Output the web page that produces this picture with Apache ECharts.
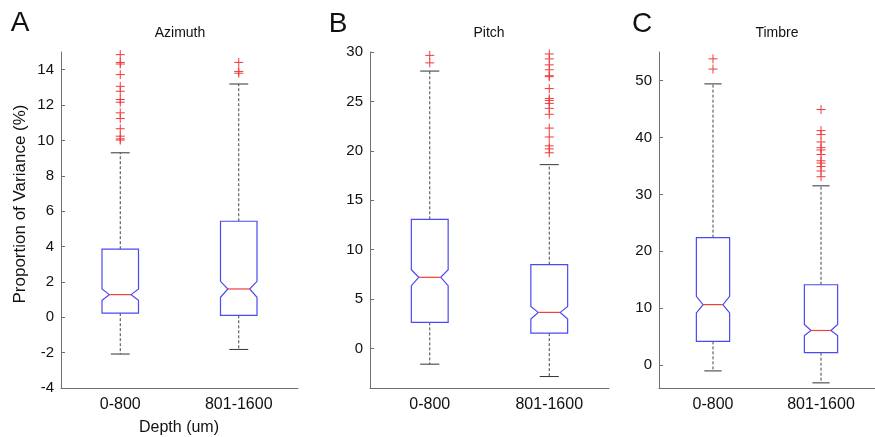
<!DOCTYPE html>
<html>
<head>
<meta charset="utf-8">
<script src="https://cdn.jsdelivr.net/npm/echarts@6/dist/echarts.min.js"></script>
<style>
  html, body { margin: 0; padding: 0; background: #fff; }
  #chart { width: 875px; height: 437px; }
</style>
</head>
<body>
<div id="chart"></div>
<script>
// categories and tick labels
var categories = ['0-800', '801-1600'];
var azimuthTicks = [-4, -2, 0, 2, 4, 6, 8, 10, 12, 14];
var pitchTicks = [0, 5, 10, 15, 20, 25, 30];
var timbreTicks = [0, 10, 20, 30, 40, 50];

// box stats per depth: [whisker low, q1, notch low, median, notch high, q3, whisker high]
var azimuthStats = [
  [-2.08, 0.23, 0.96, 1.28, 1.6, 3.85, 9.3],
  [-1.82, 0.11, 1.13, 1.6, 2.03, 5.43, 13.19]
];
var pitchStats = [
  [-1.59, 2.64, 6.35, 7.2, 7.97, 13.07, 28.07],
  [-2.84, 1.55, 2.97, 3.65, 4.26, 8.48, 18.6]
];
var timbreStats = [
  [-1.0, 4.19, 9.19, 10.64, 12.1, 22.4, 49.4],
  [-3.1, 2.2, 5.2, 6.1, 7.15, 14.13, 31.5]
];

// outliers
var azimuthOut0 = [14.85, 14.41, 14.32, 13.72, 13.06, 12.78, 12.31, 12.16, 11.56, 11.24, 10.66, 10.24, 10.09, 10.02];
var azimuthOut1 = [14.41, 13.9, 13.8];
var pitchOut0 = [29.66, 28.9];
var pitchOut1 = [29.8, 29.3, 28.7, 28.2, 27.6, 27.5, 26.3, 25.3, 25.1, 24.8, 24.3, 23.7, 22.3, 21.4, 20.5, 20.2, 19.8];
var timbreOut0 = [53.8, 52.0];
var timbreOut1 = [44.9, 41.2, 40.5, 39.2, 38.2, 37.8, 37.0, 35.9, 35.5, 34.9, 34.1, 33.1];

var FONT = '"Liberation Sans", Arial, Helvetica, sans-serif';
var AXIS_COLOR = '#6f6f6f';
var BOX_COLOR = '#4a4af2';
var MED_COLOR = '#f04040';
var OUT_COLOR = '#f03a3a';

var chart = echarts.init(document.getElementById('chart'));

// 画缺口箱体
function renderBox(params, api) {
  var idx = api.value(0);
  var y = function (i) { return api.coord([idx, api.value(i)])[1]; };
  var cx = api.coord([idx, api.value(4)])[0];
  var band = api.size([1, 0])[0];
  var hw = band * 0.154, nw = band * 0.092, cw = band * 0.08;
  var low = y(1), q1 = y(2), nlo = y(3), med = y(4), nhi = y(5), q3 = y(6), high = y(7);
  var dash = { stroke: '#444', lineWidth: 1, lineDash: [3, 2] };
  var cap = { stroke: '#333', lineWidth: 1 };
  return {
    type: 'group',
    children: [
      { type: 'line', shape: { x1: cx, y1: q3, x2: cx, y2: high }, style: dash },
      { type: 'line', shape: { x1: cx, y1: q1, x2: cx, y2: low }, style: dash },
      { type: 'line', shape: { x1: cx - cw, y1: high, x2: cx + cw, y2: high }, style: cap },
      { type: 'line', shape: { x1: cx - cw, y1: low, x2: cx + cw, y2: low }, style: cap },
      {
        type: 'polygon',
        shape: {
          points: [
            [cx - hw, q3], [cx + hw, q3], [cx + hw, nhi], [cx + nw, med], [cx + hw, nlo],
            [cx + hw, q1], [cx - hw, q1], [cx - hw, nlo], [cx - nw, med], [cx - hw, nhi]
          ]
        },
        style: { fill: '#fff', stroke: BOX_COLOR, lineWidth: 1.2 }
      },
      { type: 'line', shape: { x1: cx - nw, y1: med, x2: cx + nw, y2: med }, style: { stroke: MED_COLOR, lineWidth: 1.2 } }
    ]
  };
}

// 画离群点 "+"
function renderPlus(params, api) {
  var p = api.coord([api.value(0), api.value(1)]);
  var s = 4.5;
  var st = { stroke: OUT_COLOR, lineWidth: 1 };
  return {
    type: 'group',
    children: [
      { type: 'line', shape: { x1: p[0] - s, y1: p[1], x2: p[0] + s, y2: p[1] }, style: st },
      { type: 'line', shape: { x1: p[0], y1: p[1] - s, x2: p[0], y2: p[1] + s }, style: st }
    ]
  };
}

function boxData(stats) {
  return stats.map(function (s, i) { return [i].concat(s); });
}
function outData(out0, out1) {
  return out0.map(function (v) { return [0, v]; }).concat(out1.map(function (v) { return [1, v]; }));
}

var panels = [
  { left: 61, width: 237, min: -4, max: 15, ticks: azimuthTicks, stats: azimuthStats, out: outData(azimuthOut0, azimuthOut1) },
  { left: 370, width: 239, min: -4, max: 30, ticks: pitchTicks, stats: pitchStats, out: outData(pitchOut0, pitchOut1) },
  { left: 659, width: 237, min: -4, max: 55, ticks: timbreTicks, stats: timbreStats, out: outData(timbreOut0, timbreOut1) }
];

var grids = [], xAxes = [], yAxes = [], series = [];
panels.forEach(function (p, i) {
  grids.push({ left: p.left, width: p.width, top: 52, height: 336 });
  xAxes.push({
    type: 'category', gridIndex: i, data: categories, boundaryGap: true,
    axisLine: { onZero: false, lineStyle: { color: AXIS_COLOR, width: 1 } },
    axisTick: { inside: true, length: 4, alignWithLabel: true, lineStyle: { color: AXIS_COLOR } },
    axisLabel: { color: '#111', fontFamily: FONT, fontSize: 16, margin: 9 },
    splitLine: { show: false }
  });
  yAxes.push({
    type: 'value', gridIndex: i, min: p.min, max: p.max,
    axisLine: { show: true, lineStyle: { color: AXIS_COLOR, width: 1 } },
    axisTick: { show: true, inside: true, length: 4, customValues: p.ticks, lineStyle: { color: AXIS_COLOR } },
    axisLabel: { color: '#111', fontFamily: FONT, fontSize: 15, margin: 7, customValues: p.ticks },
    splitLine: { show: false }
  });
  series.push({
    type: 'custom', xAxisIndex: i, yAxisIndex: i, renderItem: renderBox,
    encode: { x: 0, y: [1, 2, 3, 4, 5, 6, 7] }, data: boxData(p.stats), silent: true, z: 2
  });
  series.push({
    type: 'custom', xAxisIndex: i, yAxisIndex: i, renderItem: renderPlus,
    encode: { x: 0, y: 1 }, data: p.out, silent: true, z: 3
  });
});

function label(text, x, y, size, extra) {
  var el = {
    type: 'text', x: x, y: y,
    style: { text: text, font: size + 'px ' + FONT, fill: '#111', align: 'center', verticalAlign: 'middle' }
  };
  for (var k in extra) el[k] = extra[k];
  return el;
}

chart.setOption({
  animation: false,
  backgroundColor: '#fff',
  grid: grids,
  xAxis: xAxes,
  yAxis: yAxes,
  series: series,
  graphic: [
    label('A', 20, 23, 28),
    label('B', 338, 24, 28),
    label('C', 642, 24, 28),
    label('Azimuth', 180, 33, 14),
    label('Pitch', 489, 33, 14),
    label('Timbre', 777, 33, 14),
    label('Depth (um)', 179, 428, 16),
    label('Proportion of Variance (%)', 20, 204, 17, { rotation: Math.PI / 2 })
  ]
});
</script>
</body>
</html>
